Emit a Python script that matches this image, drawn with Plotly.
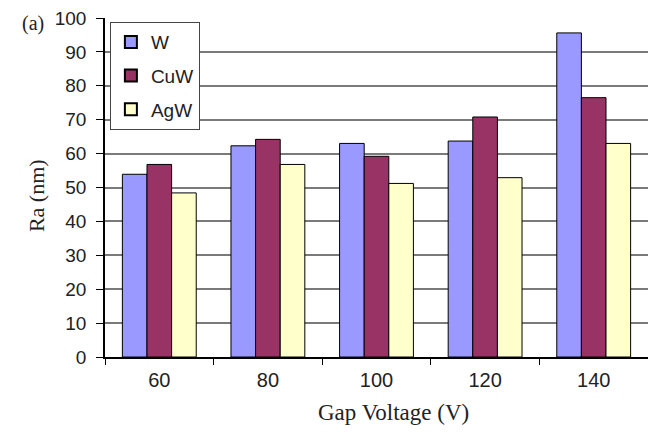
import plotly.graph_objects as go

# Surface roughness by gap voltage for three electrode materials
gap_voltage = ["60", "80", "100", "120", "140"]
ra_w = [53.9, 62.3, 63.0, 63.7, 95.6]
ra_cuw = [56.8, 64.2, 59.2, 70.8, 76.5]
ra_agw = [48.4, 56.8, 51.2, 52.9, 63.0]

series = [
    ("W", ra_w, "#9999FF"),
    ("CuW", ra_cuw, "#993366"),
    ("AgW", ra_agw, "#FFFFCC"),
]

fig = go.Figure()
for name, vals, color in series:
    fig.add_trace(go.Bar(
        x=gap_voltage, y=vals, name=name, legendgroup=name,
        marker=dict(color=color, line=dict(color="#000000", width=1)),
    ))

sans = "Liberation Sans, Arial, sans-serif"
serif = "Liberation Serif, Times New Roman, serif"
ink = "#222222"

fig.update_layout(
    width=648, height=432,
    margin=dict(l=105, r=0, t=18, b=75),
    paper_bgcolor="white", plot_bgcolor="white",
    barmode="group", bargap=0.32, bargroupgap=0,
    font=dict(family=sans, size=15, color=ink),
    showlegend=True,
    legend=dict(
        x=0.009, y=0.988, xanchor="left", yanchor="top",
        bgcolor="white", bordercolor="#444444", borderwidth=1,
        font=dict(family=sans, size=19, color=ink),
        tracegroupgap=6, itemsizing="constant",
    ),
    xaxis=dict(
        type="category", showgrid=False, ticks="outside", tickson="boundaries",
        ticklen=6, tickcolor="#000000", showline=True, linecolor="#000000",
        linewidth=1.5, ticklabelstandoff=4,
        tickfont=dict(family=sans, size=20, color=ink),
    ),
    yaxis=dict(
        range=[0, 100], dtick=10, showgrid=True, gridcolor="#7a7a7a", gridwidth=1.5,
        ticks="outside", ticklen=7, tickcolor="#000000", showline=True,
        linecolor="#000000", linewidth=1.5, zeroline=False,
        ticklabelstandoff=6,
        tickfont=dict(family=sans, size=19, color=ink),
    ),
    annotations=[
        dict(text="(a)", xref="paper", yref="paper", x=-0.108, y=0.985,
             xanchor="right", yanchor="middle", showarrow=False,
             font=dict(family=serif, size=20, color=ink)),
        dict(text="Gap Voltage (V)", xref="paper", yref="paper", x=0.532, y=-0.163,
             xanchor="center", yanchor="middle", showarrow=False,
             font=dict(family=serif, size=23, color=ink)),
        dict(text="Ra (nm)", xref="paper", yref="paper", x=-0.125, y=0.475,
             xanchor="center", yanchor="middle", showarrow=False, textangle=-90,
             font=dict(family=serif, size=22, color=ink)),
    ],
)

fig.write_html("out.html")
